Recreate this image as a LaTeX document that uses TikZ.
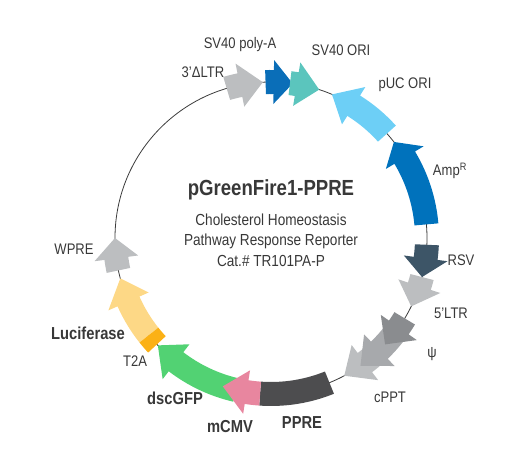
\documentclass[tikz,border=0pt]{standalone}
\usepackage{fontspec}
\setmainfont{Liberation Sans}[FakeStretch=0.85]
\usepackage{tikz}

\definecolor{backbone}{HTML}{3A3A3A}
\definecolor{labtext}{HTML}{383838}
\definecolor{ltrgray}{HTML}{BCBEC0}
\definecolor{psigray}{HTML}{8A8C8F}
\definecolor{rregray}{HTML}{A7A9AC}
\definecolor{sv40blue}{HTML}{0A6EB8}
\definecolor{sv40teal}{HTML}{5BC5BD}
\definecolor{pucblue}{HTML}{6DCFF6}
\definecolor{ampblue}{HTML}{0072BC}
\definecolor{rsvslate}{HTML}{3D5567}
\definecolor{ppregray}{HTML}{4D4D4F}
\definecolor{cmvpink}{HTML}{E8869F}
\definecolor{gfpgreen}{HTML}{52D273}
\definecolor{t2aorange}{HTML}{FBB116}
\definecolor{lucyellow}{HTML}{FDD886}

% feature arrow: start angle, head base angle, tip angle, colour
\newcommand{\plasfeat}[4]{%
  \fill[#4] (#1:144) arc[start angle=#1, end angle=#2, radius=144]
    -- (#2:134) -- (#3:156) -- (#2:178) -- (#2:168)
    arc[start angle=#2, end angle=#1, radius=168] -- cycle;}
% feature without head: start angle, end angle, colour
\newcommand{\plasband}[3]{%
  \fill[#3] (#1:144) arc[start angle=#1, end angle=#2, radius=144]
    -- (#2:168) arc[start angle=#2, end angle=#1, radius=168] -- cycle;}

\begin{document}
\begin{tikzpicture}[x=0.75pt, y=0.75pt,
    lab/.style={text=labtext, font=\fontsize{11.5}{12}\selectfont},
    boldlab/.style={text=labtext, font=\fontsize{13}{14}\selectfont\bfseries}]
  \useasboundingbox (0,0) rectangle (515,463);

  \begin{scope}[shift={(271,225)}]
    \draw[line width=0.6pt, backbone] (0,0) circle[radius=156];
    % top
    \plasfeat{106.5}{101.5}{93}{ltrgray}
    \plasfeat{92}{89}{82}{sv40blue}
    \plasfeat{83}{80.5}{72}{sv40teal}
    % right side, counter-clockwise
    \plasfeat{42}{58}{67}{pucblue}
    \plasfeat{5}{31}{38}{ampblue}
    % right side, clockwise
    \plasfeat{-14.5}{-18}{-26}{ltrgray}
    \plasfeat{-2.5}{-7.5}{-14.5}{rsvslate}
    \plasfeat{-48}{-53}{-62}{ltrgray}
    \plasfeat{-38}{-46}{-55}{rregray}
    \plasfeat{-31}{-35}{-43}{psigray}
    % bottom
    \plasband{-68}{-94}{ppregray}
    \plasfeat{-103}{-127.5}{-136.5}{gfpgreen}
    \plasfeat{-94}{-99}{-108}{cmvpink}
    \plasfeat{-141.5}{-156}{-165}{lucyellow}
    \plasband{-137}{-141.5}{t2aorange}
    % left
    \plasfeat{-168}{-172.5}{-180}{ltrgray}
  \end{scope}

  % labels
  \node[lab] (sv40pa) at (240,418) {SV40 poly-A};
  \node[lab] (sv40ori) at (341,413) {SV40 ORI};
  \node[lab] (ltr3) at (203,391) {3’ΔLTR};
  \node[lab] (pucori) at (405,378) {pUC ORI};
  \node[lab] (ampr) at (450,292) {Amp\textsuperscript{R}};
  \node[lab] (rsv) at (461,203) {RSV};
  \node[lab] (ltr5) at (451,150) {5’LTR};
  \node[lab] (psi) at (432,109) {ψ};
  \node[lab] (cppt) at (390,66) {cPPT};
  \node[boldlab] (ppre) at (302,40) {PPRE};
  \node[boldlab] (mcmv) at (230,36) {mCMV};
  \node[boldlab] (gfp) at (175,65) {dscGFP};
  \node[lab] (t2a) at (135,102) {T2A};
  \node[boldlab] (luc) at (88,130) {Luciferase};
  \node[lab] (wpre) at (74,214) {WPRE};

  % centre text
  \node[text=labtext, font=\fontsize{16.4}{18}\selectfont\bfseries] (title) at (271,273) {pGreenFire1-PPRE};
  \node[text=labtext, font=\fontsize{12}{15.4}\selectfont, align=center] (subtitle) at (271,223)
    {Cholesterol Homeostasis\\Pathway Response Reporter\\Cat.\# TR101PA-P};
\end{tikzpicture}
\end{document}
